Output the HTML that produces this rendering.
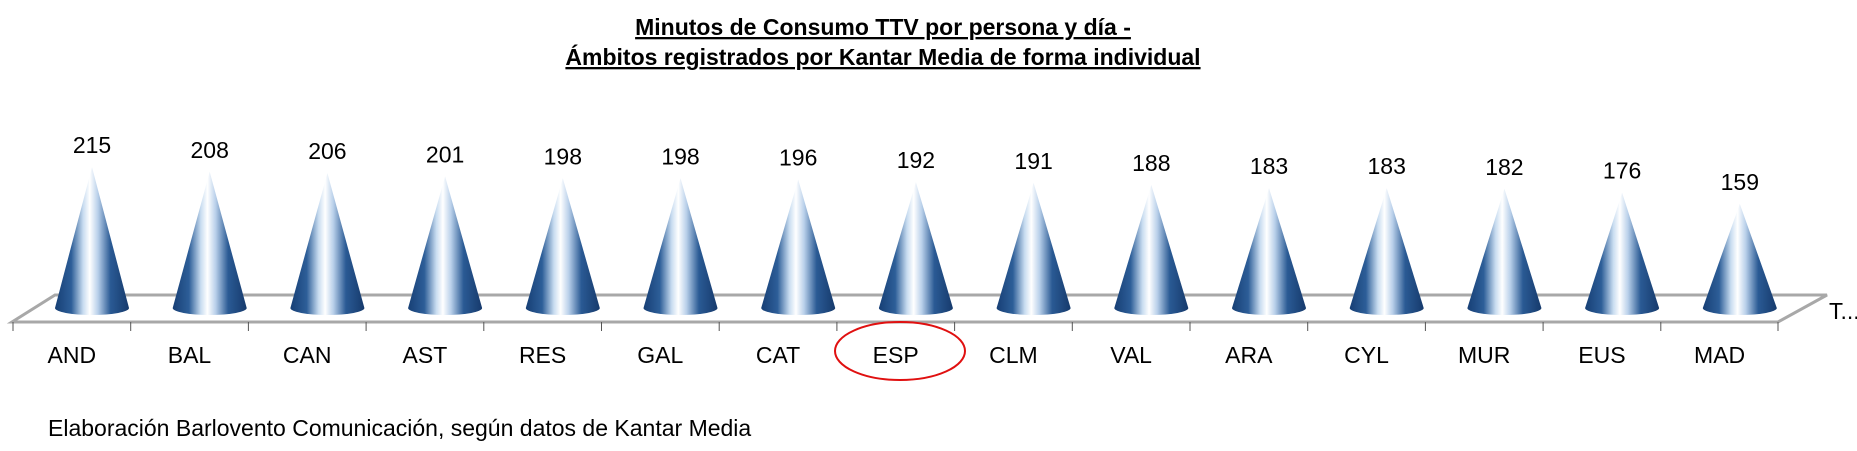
<!DOCTYPE html>
<html><head><meta charset="utf-8"><style>
html,body{margin:0;padding:0;background:#fff;}
svg{display:block;font-family:"Liberation Sans",sans-serif;}
</style></head><body>
<svg width="1857" height="451" viewBox="0 0 1857 451" xmlns="http://www.w3.org/2000/svg">
<defs>
<linearGradient id="g" x1="0" x2="1" y1="0" y2="0">
<stop offset="0" stop-color="#173f75"/>
<stop offset="0.22" stop-color="#2d5e98"/>
<stop offset="0.38" stop-color="#c8dcf0"/>
<stop offset="0.47" stop-color="#ffffff"/>
<stop offset="0.58" stop-color="#b9d0ea"/>
<stop offset="0.75" stop-color="#2a5a94"/>
<stop offset="1" stop-color="#163a6c"/>
</linearGradient>
</defs>
<g font-weight="bold" font-size="23" text-anchor="middle" fill="#000">
<text x="883" y="35" text-decoration="underline">Minutos de Consumo TTV por persona y día -</text>
<text x="883" y="65" text-decoration="underline">Ámbitos registrados por Kantar Media de forma individual</text>
</g>
<polygon points="55,295 1827,295 1778,322 12,322" fill="#fff" stroke="#a8a8a8" stroke-width="3"/>
<g stroke="#555" stroke-width="1">
<line x1="13" y1="322" x2="13" y2="331"/><line x1="130.7" y1="322" x2="130.7" y2="331"/><line x1="248.4" y1="322" x2="248.4" y2="331"/><line x1="366.1" y1="322" x2="366.1" y2="331"/><line x1="483.8" y1="322" x2="483.8" y2="331"/><line x1="601.5" y1="322" x2="601.5" y2="331"/><line x1="719.2" y1="322" x2="719.2" y2="331"/><line x1="836.9" y1="322" x2="836.9" y2="331"/><line x1="954.6" y1="322" x2="954.6" y2="331"/><line x1="1072.3" y1="322" x2="1072.3" y2="331"/><line x1="1190" y1="322" x2="1190" y2="331"/><line x1="1307.7" y1="322" x2="1307.7" y2="331"/><line x1="1425.4" y1="322" x2="1425.4" y2="331"/><line x1="1543.1" y1="322" x2="1543.1" y2="331"/><line x1="1660.8" y1="322" x2="1660.8" y2="331"/><line x1="1778" y1="322" x2="1778" y2="331"/>
</g>
<g id="cones"></g>
<g font-size="23" text-anchor="middle" fill="#000" id="vals"></g>
<g font-size="23" text-anchor="middle" fill="#000" id="cats"></g>
<text x="1829" y="319" font-size="23">T...</text>
<ellipse cx="900" cy="351" rx="65" ry="29" fill="none" stroke="#e01010" stroke-width="2"/>
<text x="48" y="436" font-size="23">Elaboración Barlovento Comunicación, según datos de Kantar Media</text>
<script>
var v=[215,208,206,201,198,198,196,192,191,188,183,183,182,176,159];
var c=["AND","BAL","CAN","AST","RES","GAL","CAT","ESP","CLM","VAL","ARA","CYL","MUR","EUS","MAD"];
var ns="http://www.w3.org/2000/svg",cones=document.getElementById("cones"),vals=document.getElementById("vals"),cats=document.getElementById("cats");
for(var i=0;i<15;i++){
var x=92+i*117.7,by=308,ty=by-v[i]*0.655,w=37;
var p=document.createElementNS(ns,"path");
p.setAttribute("d","M"+(x-w)+","+by+" L"+x+","+ty+" L"+(x+w)+","+by+" A"+w+",7 0 0 1 "+(x-w)+","+by+" Z");
p.setAttribute("fill","url(#g)");cones.appendChild(p);
var t=document.createElementNS(ns,"text");t.setAttribute("x",x);t.setAttribute("y",ty-14);t.textContent=v[i];vals.appendChild(t);
var t2=document.createElementNS(ns,"text");t2.setAttribute("x",13+i*117.7+58.8);t2.setAttribute("y",363);t2.textContent=c[i];cats.appendChild(t2);
}
</script>
</svg>
</body></html>
